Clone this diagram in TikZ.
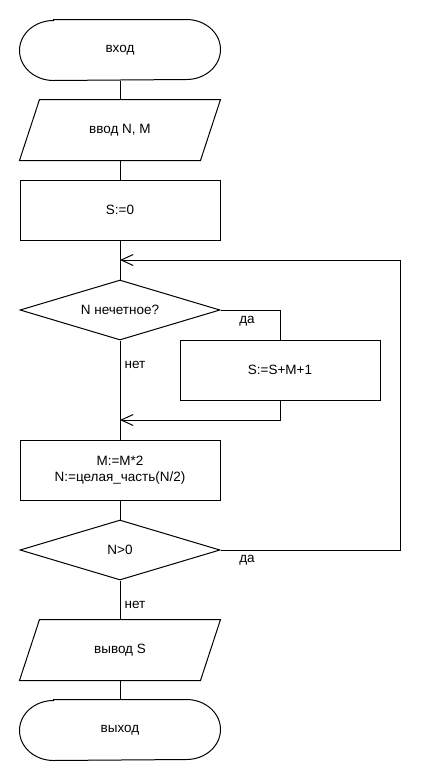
\documentclass[tikz,border=0pt]{standalone}
\usepackage{fontspec}
\setmainfont{Liberation Sans}
\usetikzlibrary{shapes.geometric,arrows.meta}
\begin{document}
\begin{tikzpicture}[x=1pt,y=-1pt,line width=1pt,
  every node/.style={font=\fontsize{13.5}{16.5}\selectfont, inner sep=0pt, align=center},
  box/.style={rectangle, minimum width=200pt, minimum height=60pt},
  proc/.style={box, draw},
  cond/.style={draw, diamond, shape aspect=3.333, minimum width=200pt, minimum height=60pt},
  lbl/.style={anchor=center},
  arr/.style={-{Straight Barb[length=12pt,width=11pt]}}]
\useasboundingbox (0,0) rectangle (440,780);
\node[box] (start) at (120,50) {вход};
\node[box] (in1) at (120,130) {ввод N, M};
\node[proc] (init) at (120,210) {S:=0};
\node[cond] (d1) at (120,310) {N нечетное?};
\node[proc] (add) at (280,370) {S:=S+M+1};
\node[proc] (upd) at (120,470) {M:=M*2\\N:=целая\_часть(N/2)};
\node[cond] (d2) at (120,550) {N>0};
\node[box] (out) at (120,650) {вывод S};
\node[box] (stop) at (120,730) {выход};
% terminal outlines
\foreach \n in {start,stop}{
  \draw ([xshift=34pt]\n.north west) -- ([xshift=-34pt]\n.north east)
    arc[start angle=90,end angle=-90,x radius=34pt,y radius=30pt]
    -- ([xshift=34pt]\n.south west)
    arc[start angle=270,end angle=90,x radius=34pt,y radius=30pt] -- cycle;
}
% parallelogram outlines
\foreach \n in {in1,out}{
  \draw (\n.south west) -- ([xshift=20pt]\n.north west) -- (\n.north east)
    -- ([xshift=-20pt]\n.south east) -- cycle;
}
\coordinate (j1) at (120,260);
\coordinate (j2) at (120,420);
\coordinate (r) at (400,550);
\draw (start) -- (in1);
\draw (in1) -- (init);
\draw (init) -- (d1);
\draw (d1.east) -| (add.north);
\draw[arr] (add.south) |- (j2);
\draw (d1.south) -- (upd.north);
\draw (upd) -- (d2);
\draw[arr] (d2.east) -- (r) |- (j1);
\draw (d2) -- (out);
\draw (out) -- (stop);
\node[lbl] at (247,321) {да};
\node[lbl] at (135,365) {нет};
\node[lbl] at (247,560) {да};
\node[lbl] at (135,605) {нет};
\end{tikzpicture}
\end{document}
